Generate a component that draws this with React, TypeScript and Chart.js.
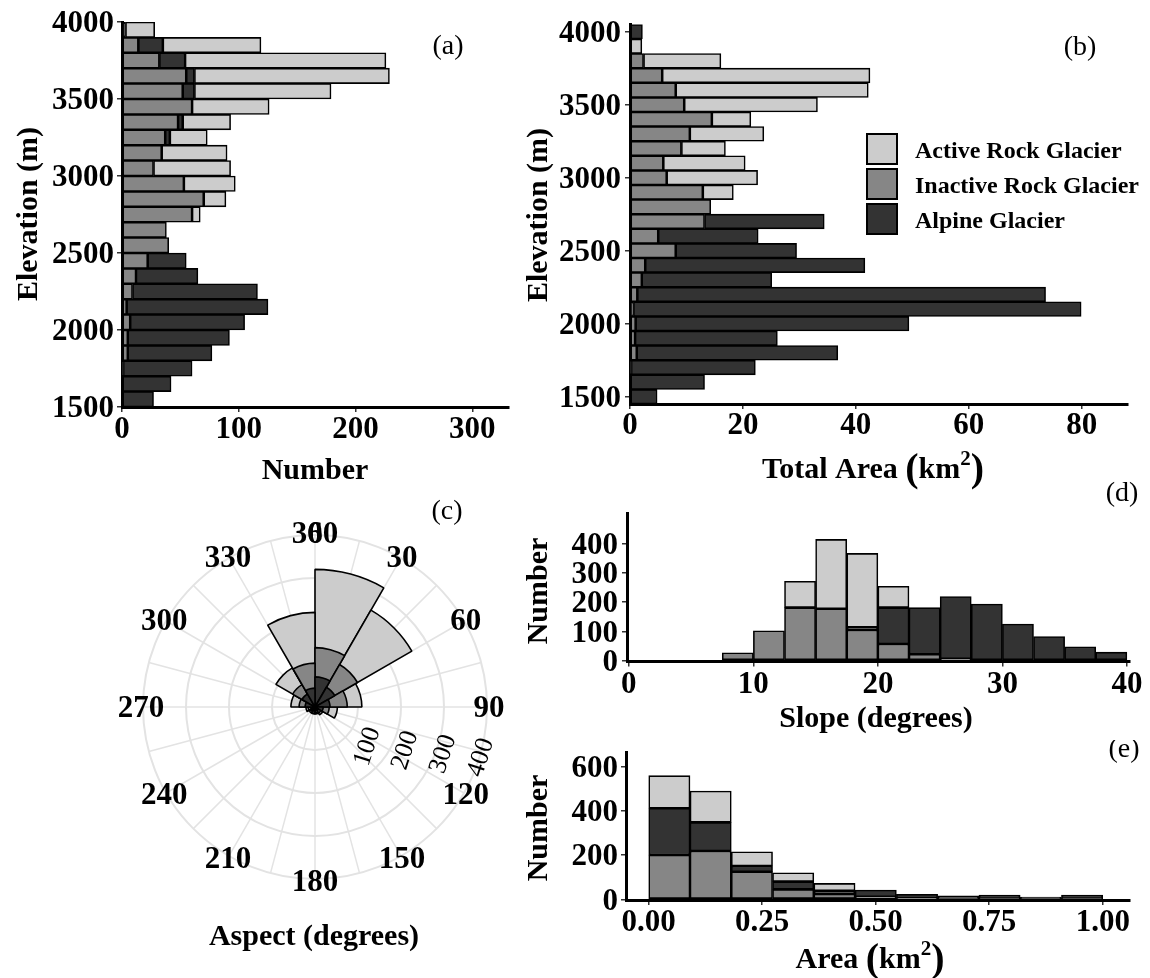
import React, { useEffect, useRef } from 'react';
import { Chart, registerables } from 'chart.js';

Chart.register(...registerables);

const SERIF = '"Liberation Serif", "Times New Roman", Times, serif';
const LIGHT = '#cccccc';
const MID = '#868686';
const DARK = '#333333';
const TICK = 31;
const TITLE = 30;

const LBL_ACTIVE = 'Active Rock Glacier';
const LBL_INACTIVE = 'Inactive Rock Glacier';
const LBL_ALPINE = 'Alpine Glacier';

// (a) number of features per 100 m elevation band (band centres, m)
const elevMidA = [1550, 1650, 1750, 1850, 1950, 2050, 2150, 2250, 2350, 2450, 2550, 2650, 2750, 2850, 2950, 3050, 3150, 3250, 3350, 3450, 3550, 3650, 3750, 3850, 3950];
const numInactiveA = [0, 0, 1, 5, 5, 7, 4, 9, 12, 22, 40, 38, 60, 70, 53, 27, 34, 37, 48, 60, 52, 55, 32, 14, 0];
const numAlpineA = [27, 42, 59, 72, 87, 98, 121, 107, 53, 33, 0, 0, 0, 0, 0, 0, 0, 4, 4, 0, 10, 7, 22, 21, 3];
const numActiveA = [0, 0, 0, 0, 0, 0, 0, 0, 0, 0, 0, 0, 7, 19, 44, 66, 56, 32, 41, 66, 117, 167, 172, 84, 25];
const elevTicks = [1500, 2000, 2500, 3000, 3500, 4000];
const numTicksA = [0, 100, 200, 300];

// (b) total area (km2) per elevation step
const elevB = [1500, 1600, 1700, 1800, 1900, 2000, 2100, 2200, 2300, 2400, 2500, 2600, 2700, 2800, 2900, 3000, 3100, 3200, 3300, 3400, 3500, 3600, 3700, 3800, 3900, 4000];
const areaInactiveB = [0, 0, 0.2, 1.2, 0.9, 1.0, 0.6, 1.3, 2.1, 2.7, 8.1, 5.0, 13.2, 14.3, 12.9, 6.5, 5.9, 9.1, 10.6, 14.5, 9.6, 8.1, 5.7, 2.4, 0, 0];
const areaAlpineB = [4.8, 13.2, 22.0, 35.6, 25.2, 48.4, 79.3, 72.3, 23.0, 38.9, 21.4, 17.7, 21.2, 0, 0, 0, 0, 0, 0, 0, 0, 0, 0, 0, 0, 2.2];
const areaActiveB = [0, 0, 0, 0, 0, 0, 0, 0, 0, 0, 0, 0, 0, 0, 5.4, 16.1, 14.5, 7.8, 13.1, 6.9, 23.6, 34.1, 36.8, 13.7, 2.1, 0];
const areaTicksB = [0, 20, 40, 60, 80];

// (c) aspect, 30 degree sectors starting at north
const aspectSectors = ['0-30', '30-60', '60-90', '90-120', '120-150', '150-180', '180-210', '210-240', '240-270', '270-300', '300-330', '330-360'];
const aspectAlpine = [70, 53, 35, 19, 10, 9, 8, 8, 10, 23, 35, 44];
const aspectInactive = [68, 61, 40, 14, 6, 4, 4, 4, 6, 14, 25, 58];
const aspectActive = [182, 146, 34, 19, 5, 3, 4, 4, 5, 19, 45, 118];
const aspectTicks = [0, 30, 60, 90, 120, 150, 180, 210, 240, 270, 300, 330, 360];
const radialTicks = [100, 200, 300, 400];

// (d) slope histogram, 2.5 degree bins (bin centres)
const slopeMid = [1.25, 3.75, 6.25, 8.75, 11.25, 13.75, 16.25, 18.75, 21.25, 23.75, 26.25, 28.75, 31.25, 33.75, 36.25, 38.75];
const slopeInactive = [0, 0, 0, 27, 102, 181, 177, 105, 57, 22, 6, 0, 0, 0, 0, 0];
const slopeAlpine = [0, 0, 0, 0, 0, 0, 0, 9, 124, 159, 213, 193, 125, 82, 47, 29];
const slopeActive = [0, 0, 0, 0, 0, 90, 237, 252, 73, 0, 0, 0, 0, 0, 0, 0];
const slopeTicks = [0, 10, 20, 30, 40];
const slopeCountTicks = [0, 100, 200, 300, 400];

// (e) area histogram (km2, bin centres)
const areaMid = [0.0455, 0.1364, 0.2273, 0.3182, 0.4091, 0.5, 0.5909, 0.6818, 0.7727, 0.8636, 0.9545];
const sizeInactive = [200, 219, 125, 45, 24, 12, 5, 3, 3, 2, 3];
const sizeAlpine = [212, 129, 26, 35, 15, 30, 18, 13, 16, 8, 16];
const sizeActive = [147, 142, 64, 40, 33, 0, 0, 0, 0, 0, 0];
const sizeTicks = [0, 0.25, 0.5, 0.75, 1.0];
const sizeCountTicks = [0, 200, 400, 600];

type Ctx = CanvasRenderingContext2D;

function text(ctx: Ctx, s: string, x: number, cy: number, size: number, o: { weight?: string; align?: CanvasTextAlign; rot?: number } = {}) {
  ctx.save();
  ctx.font = `${o.weight ?? 'bold'} ${size}px ${SERIF}`;
  ctx.fillStyle = '#000';
  ctx.textAlign = o.align ?? 'center';
  ctx.textBaseline = 'alphabetic';
  ctx.translate(x, cy);
  if (o.rot) ctx.rotate(o.rot);
  ctx.fillText(s, 0, size * 0.33);
  ctx.restore();
}

// title with a "(km²)" unit and tall brackets
function kmTitle(ctx: Ctx, prefix: string, cx: number, cy: number) {
  const parts = [
    { t: prefix + ' ', size: TITLE, dy: 0 },
    { t: '(', size: 40, dy: 3 },
    { t: 'km', size: TITLE, dy: 0 },
    { t: '2', size: 21, dy: -13 },
    { t: ')', size: 40, dy: 3 },
  ];
  let total = 0;
  const widths = parts.map((p) => {
    ctx.font = `bold ${p.size}px ${SERIF}`;
    const w = ctx.measureText(p.t).width;
    total += w;
    return w;
  });
  let x = cx - total / 2;
  ctx.save();
  ctx.fillStyle = '#000';
  ctx.textAlign = 'left';
  ctx.textBaseline = 'alphabetic';
  parts.forEach((p, i) => {
    ctx.font = `bold ${p.size}px ${SERIF}`;
    ctx.fillText(p.t, x, cy + TITLE * 0.33 + p.dy);
    x += widths[i];
  });
  ctx.restore();
}

const gridStyle = {
  display: true,
  drawOnChartArea: false,
  drawTicks: true,
  tickLength: 5,
  tickWidth: 1.5,
  tickColor: '#333',
  color: '#333',
  lineWidth: 1.5,
  offset: false,
};

function linAxis(min: number, max: number, ticks: number[], size: number) {
  return {
    type: 'linear' as const,
    min,
    max,
    stacked: true,
    offset: false,
    afterBuildTicks: (s: any) => {
      s.ticks = ticks.map((value) => ({ value }));
    },
    afterFit: (s: any) => {
      if (s.isHorizontal()) s.height = size;
      else s.width = size;
    },
    ticks: { display: false },
    grid: { ...gridStyle },
    border: { display: true, color: '#000', width: 3 },
  };
}

const barStyle = {
  borderColor: '#000',
  borderWidth: 1.6,
  borderSkipped: false,
  barPercentage: 1,
  categoryPercentage: 1,
};

function stackSets(horizontal: boolean, pos: number[], inactive: number[], alpine: number[], active: number[]) {
  const pts = (vals: number[]) => vals.map((v, i) => (horizontal ? { x: v, y: pos[i] } : { x: pos[i], y: v }));
  return [
    { label: LBL_INACTIVE, data: pts(inactive), backgroundColor: MID, ...barStyle },
    { label: LBL_ALPINE, data: pts(alpine), backgroundColor: DARK, ...barStyle },
    { label: LBL_ACTIVE, data: pts(active), backgroundColor: LIGHT, ...barStyle },
  ];
}

function deco(ox: number, oy: number, draw: (ctx: Ctx, chart: any) => void) {
  return {
    id: 'deco',
    afterDraw(chart: any) {
      const ctx = chart.ctx as Ctx;
      ctx.save();
      ctx.translate(-ox, -oy);
      draw(ctx, chart);
      ctx.restore();
    },
  };
}

const baseOptions = {
  responsive: false,
  animation: false,
  devicePixelRatio: 1,
  plugins: { legend: { display: false }, tooltip: { enabled: false } },
};

function xLabels(ctx: Ctx, scale: any, ox: number, vals: number[], fmt: (v: number) => string, cy: number) {
  vals.forEach((v) => text(ctx, fmt(v), scale.getPixelForValue(v) + ox, cy, TICK));
}
function yLabels(ctx: Ctx, scale: any, oy: number, vals: number[], fmt: (v: number) => string, right: number) {
  vals.forEach((v) => text(ctx, fmt(v), right, scale.getPixelForValue(v) + oy, TICK, { align: 'right' }));
}

const ROT_UP = -Math.PI / 2;

// ---------- panel configs (ox, oy = canvas position on the page)
function configA(ox: number, oy: number): any {
  return {
    type: 'bar',
    data: { datasets: stackSets(true, elevMidA, numInactiveA, numAlpineA, numActiveA) },
    options: {
      ...baseOptions,
      indexAxis: 'y',
      layout: { padding: { left: 0, top: 22, right: 66, bottom: 0 } },
      scales: { x: linAxis(0, 331.4, numTicksA, 93), y: linAxis(1500, 4000, elevTicks, 122) },
    },
    plugins: [
      deco(ox, oy, (ctx, chart) => {
        xLabels(ctx, chart.scales.x, ox, numTicksA, String, 428);
        yLabels(ctx, chart.scales.y, oy, elevTicks, String, 114);
        text(ctx, 'Number', 315, 469, TITLE);
        text(ctx, 'Elevation (m)', 27, 214, TITLE, { rot: ROT_UP });
        text(ctx, '(a)', 448, 45, 28, { weight: 'normal' });
      }),
    ],
  };
}

function configB(ox: number, oy: number): any {
  return {
    type: 'bar',
    data: { datasets: stackSets(true, elevB, areaInactiveB, areaAlpineB, areaActiveB) },
    options: {
      ...baseOptions,
      indexAxis: 'y',
      layout: { padding: { left: 0, top: 24.4, right: 22, bottom: 0 } },
      scales: { x: linAxis(0, 88.2, areaTicksB, 96), y: linAxis(1450, 4050, elevTicks, 120) },
    },
    plugins: [
      deco(ox, oy, (ctx, chart) => {
        xLabels(ctx, chart.scales.x, ox, areaTicksB, String, 424);
        yLabels(ctx, chart.scales.y, oy, elevTicks, String, 621);
        kmTitle(ctx, 'Total Area', 873, 468);
        text(ctx, 'Elevation (m)', 537, 215, TITLE, { rot: ROT_UP });
        text(ctx, '(b)', 1080, 46, 28, { weight: 'normal' });
        // legend
        const order = [2, 0, 1];
        order.forEach((di, k) => {
          const ds = chart.data.datasets[di];
          const top = 133 + k * 35;
          ctx.fillStyle = ds.backgroundColor;
          ctx.fillRect(866, top, 32, 32);
          ctx.strokeStyle = '#000';
          ctx.lineWidth = 2;
          ctx.strokeRect(867, top + 1, 30, 30);
          text(ctx, ds.label, 915, top + 17, 24, { align: 'left' });
        });
      }),
    ],
  };
}

const polarDeco = (ox: number, oy: number) => ({
  id: 'polarDeco',
  beforeDatasetsDraw(chart: any) {
    const s = chart.scales.r;
    const ctx = chart.ctx as Ctx;
    const cx = s.xCenter;
    const cy = s.yCenter;
    const rMax = s.getDistanceFromCenterForValue(radialTicks[radialTicks.length - 1]);
    ctx.save();
    ctx.strokeStyle = '#e3e3e3';
    ctx.lineWidth = 1.5;
    for (let a = 0; a < 360; a += 15) {
      const t = ((a - 90) * Math.PI) / 180;
      ctx.beginPath();
      ctx.moveTo(cx, cy);
      ctx.lineTo(cx + rMax * Math.cos(t), cy + rMax * Math.sin(t));
      ctx.stroke();
    }
    ctx.lineWidth = 2;
    radialTicks.forEach((v) => {
      ctx.beginPath();
      ctx.arc(cx, cy, s.getDistanceFromCenterForValue(v), 0, Math.PI * 2);
      ctx.stroke();
    });
    ctx.restore();
  },
  afterDraw(chart: any) {
    const s = chart.scales.r;
    const ctx = chart.ctx as Ctx;
    ctx.save();
    ctx.translate(-ox, -oy);
    const cx = s.xCenter + ox;
    const cy = s.yCenter + oy;
    const rl = s.drawingArea + 2;
    aspectTicks.forEach((a) => {
      const t = ((a - 90) * Math.PI) / 180;
      text(ctx, String(a), cx + rl * Math.cos(t), cy + rl * Math.sin(t), TICK);
    });
    radialTicks.forEach((v) => {
      const r = s.getDistanceFromCenterForValue(v);
      text(ctx, String(v), cx + 13 + r * 0.88, cy + 35.5 + r * 0.085, 26, { weight: 'normal', rot: (-72 * Math.PI) / 180 });
    });
    text(ctx, 'Aspect (degrees)', 314, 935, TITLE);
    text(ctx, '(c)', 447, 510, 28, { weight: 'normal' });
    ctx.restore();
  },
});

function configC(ox: number, oy: number): any {
  const inner = aspectAlpine;
  const mid = aspectAlpine.map((v, i) => v + aspectInactive[i]);
  const outer = mid.map((v, i) => v + aspectActive[i]);
  const arcStyle = { borderColor: '#000', borderWidth: 1.6 };
  return {
    type: 'polarArea',
    data: {
      labels: aspectSectors,
      datasets: [
        { label: LBL_ALPINE, data: inner, backgroundColor: DARK, ...arcStyle },
        { label: LBL_INACTIVE, data: mid, backgroundColor: MID, ...arcStyle },
        { label: LBL_ACTIVE, data: outer, backgroundColor: LIGHT, ...arcStyle },
      ],
    },
    options: {
      ...baseOptions,
      layout: { padding: { left: 43.7, top: 45.7, right: 52.3, bottom: 80.3 } },
      scales: {
        r: {
          type: 'radialLinear',
          min: 0,
          max: 400,
          startAngle: 0,
          ticks: { display: false },
          grid: { display: false },
          angleLines: { display: false },
          pointLabels: { display: false },
        },
      },
    },
    plugins: [polarDeco(ox, oy)],
  };
}

function configD(ox: number, oy: number): any {
  return {
    type: 'bar',
    data: { datasets: stackSets(false, slopeMid, slopeInactive, slopeAlpine, slopeActive) },
    options: {
      ...baseOptions,
      layout: { padding: { left: 0, top: 48, right: 20, bottom: 0 } },
      scales: { x: linAxis(-0.15, 40.25, slopeTicks, 78.5), y: linAxis(-3, 504, slopeCountTicks, 117) },
    },
    plugins: [
      deco(ox, oy, (ctx, chart) => {
        xLabels(ctx, chart.scales.x, ox, slopeTicks, String, 683);
        yLabels(ctx, chart.scales.y, oy, slopeCountTicks, String, 618);
        text(ctx, 'Slope (degrees)', 876, 717, TITLE);
        text(ctx, 'Number', 537, 591, TITLE, { rot: ROT_UP });
        text(ctx, '(d)', 1122, 492, 28, { weight: 'normal' });
      }),
    ],
  };
}

function configE(ox: number, oy: number): any {
  return {
    type: 'bar',
    data: { datasets: stackSets(false, areaMid, sizeInactive, sizeAlpine, sizeActive) },
    options: {
      ...baseOptions,
      layout: { padding: { left: 0, top: 12.7, right: 20, bottom: 0 } },
      scales: { x: linAxis(-0.05, 1.06, sizeTicks, 78), y: linAxis(-3, 663, sizeCountTicks, 116) },
    },
    plugins: [
      deco(ox, oy, (ctx, chart) => {
        xLabels(ctx, chart.scales.x, ox, sizeTicks, (v) => v.toFixed(2), 921);
        yLabels(ctx, chart.scales.y, oy, sizeCountTicks, String, 618);
        kmTitle(ctx, 'Area', 870, 958);
        text(ctx, 'Number', 537, 828, TITLE, { rot: ROT_UP });
        text(ctx, '(e)', 1124, 748, 28, { weight: 'normal' });
      }),
    ],
  };
}

function Panel({ left, top, width, height, make }: { left: number; top: number; width: number; height: number; make: (ox: number, oy: number) => any }) {
  const ref = useRef<HTMLCanvasElement>(null);
  useEffect(() => {
    const chart = new Chart(ref.current as HTMLCanvasElement, make(left, top));
    return () => chart.destroy();
  }, []);
  return <canvas ref={ref} width={width} height={height} style={{ position: 'absolute', left, top, width, height }} />;
}

export default function App() {
  return (
    <div style={{ position: 'absolute', left: 0, top: 0, width: 1150, height: 978, background: '#fff', overflow: 'hidden' }}>
      <Panel left={0} top={0} width={575} height={500} make={configA} />
      <Panel left={510} top={0} width={640} height={500} make={configB} />
      <Panel left={100} top={490} width={440} height={470} make={configC} />
      <Panel left={510} top={465} width={640} height={275} make={configD} />
      <Panel left={510} top={740} width={640} height={238} make={configE} />
    </div>
  );
}
